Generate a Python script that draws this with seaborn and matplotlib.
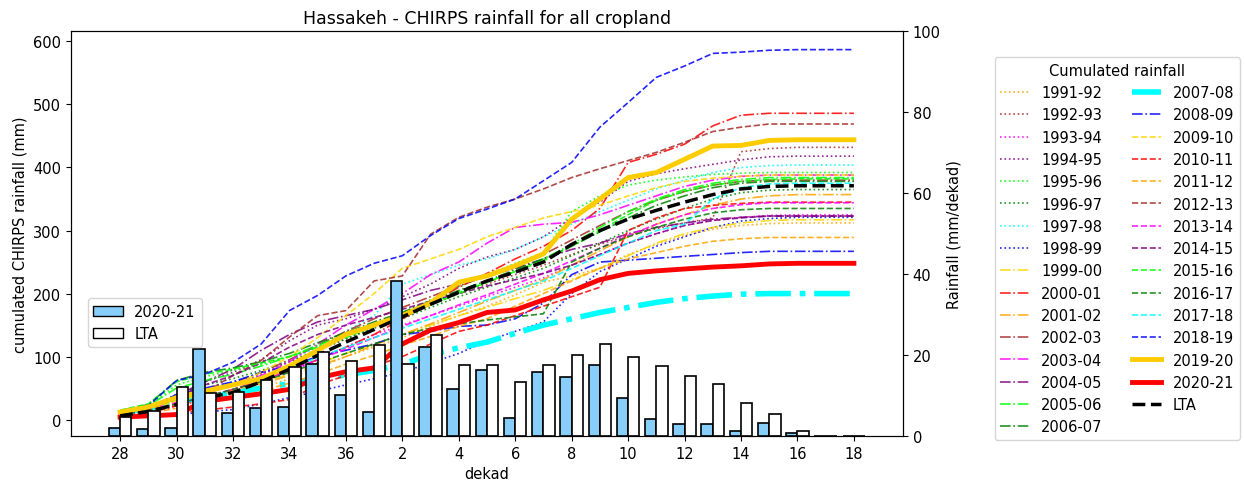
import numpy as np
import pandas as pd
import matplotlib
matplotlib.use("Agg")
import matplotlib.pyplot as plt
import seaborn as sns
from matplotlib.patches import Patch

plt.rcParams['font.size'] = 10.5

# dekads of the season (Oct dekad 28 -> Jun dekad 18)
dekads = [28, 29, 30, 31, 32, 33, 34, 35, 36, 1, 2, 3, 4, 5, 6, 7, 8, 9,
          10, 11, 12, 13, 14, 15, 16, 17, 18]

# dekadal rainfall (mm/dekad)
rain_2020_21 = [1.9, 1.7, 2.0, 21.4, 5.7, 6.8, 7.1, 17.8, 10.1, 6.0, 38.2, 22.0, 11.6, 16.4,
                4.4, 15.9, 14.5, 17.5, 9.3, 4.2, 3.0, 3.0, 1.3, 3.2, 0.8, 0.0, 0.0]
rain_lta = [4.6, 6.2, 12.2, 10.6, 10.9, 13.8, 17.1, 20.8, 18.6, 22.4, 17.8, 24.9, 17.6, 17.5,
            13.3, 17.6, 20.1, 22.6, 19.5, 17.2, 14.9, 12.9, 8.2, 5.4, 1.3, 0.1, 0.0]

# cumulated rainfall (mm) per season
c1991_92 = [8, 14, 22, 30, 38, 50, 65, 82, 100, 115, 130, 148, 165, 180, 198, 218, 228, 240, 262, 278, 292, 302, 308, 311, 312, 312, 312]
c1992_93 = [10, 18, 30, 42, 55, 72, 92, 110, 128, 148, 165, 182, 200, 215, 230, 245, 262, 278, 292, 303, 312, 320, 425, 430, 432, 432, 432]
c1993_94 = [6, 12, 22, 32, 45, 60, 75, 95, 115, 135, 150, 165, 180, 195, 210, 225, 245, 262, 280, 295, 308, 316, 321, 324, 325, 325, 325]
c1994_95 = [8, 15, 35, 60, 75, 95, 125, 150, 160, 175, 195, 215, 240, 258, 270, 290, 320, 345, 378, 390, 398, 405, 412, 417, 418, 418, 418]
c1995_96 = [12, 22, 55, 68, 78, 88, 100, 115, 135, 150, 170, 190, 210, 230, 248, 265, 330, 355, 372, 380, 385, 389, 391, 392, 392, 392, 392]
c1996_97 = [10, 18, 40, 55, 65, 78, 92, 110, 128, 145, 160, 178, 195, 210, 225, 240, 260, 280, 300, 318, 335, 350, 360, 364, 365, 365, 365]
c1997_98 = [10, 18, 30, 45, 60, 75, 95, 115, 140, 165, 215, 230, 245, 255, 270, 290, 310, 330, 348, 366, 380, 392, 400, 403, 404, 404, 404]
c1998_99 = [2, 5, 8, 12, 16, 25, 35, 45, 55, 65, 75, 90, 105, 125, 140, 155, 200, 235, 255, 275, 290, 305, 315, 319, 321, 321, 321]
c1999_00 = [8, 14, 25, 35, 45, 58, 72, 88, 105, 120, 135, 150, 165, 178, 192, 205, 222, 240, 260, 280, 295, 305, 312, 316, 317, 317, 317]
c2000_01 = [5, 10, 22, 35, 48, 62, 78, 95, 115, 135, 160, 185, 210, 232, 255, 275, 300, 335, 408, 421, 437, 466, 483, 486, 486, 486, 486]
c2001_02 = [8, 14, 24, 34, 44, 56, 70, 85, 100, 118, 135, 152, 170, 188, 205, 222, 245, 268, 290, 310, 325, 340, 350, 355, 357, 357, 357]
c2002_03 = [10, 18, 32, 45, 58, 75, 95, 118, 140, 160, 178, 195, 212, 228, 245, 262, 285, 308, 330, 348, 362, 372, 378, 380, 380, 380, 380]
c2003_04 = [8, 15, 28, 40, 55, 70, 92, 120, 150, 175, 200, 230, 250, 280, 305, 310, 313, 325, 340, 355, 370, 380, 386, 388, 388, 388, 388]
c2004_05 = [10, 18, 38, 60, 80, 110, 135, 155, 165, 175, 190, 205, 215, 228, 240, 255, 270, 280, 295, 305, 312, 318, 321, 323, 323, 323, 323]
c2005_06 = [12, 22, 50, 62, 72, 85, 100, 118, 135, 152, 168, 185, 202, 218, 235, 255, 278, 305, 330, 350, 365, 375, 381, 384, 384, 384, 384]
c2006_07 = [14, 24, 62, 75, 82, 92, 105, 122, 138, 155, 170, 188, 205, 220, 238, 255, 275, 298, 320, 340, 355, 368, 375, 378, 378, 378, 378]
c2007_08 = [10, 18, 28, 36, 42, 50, 57, 64, 71, 78, 88, 103, 114, 123, 137, 150, 160, 170, 178, 186, 192, 196, 199, 200, 200, 200, 200]
c2008_09 = [12, 18, 40, 50, 60, 75, 85, 100, 110, 120, 135, 140, 148, 150, 160, 185, 230, 250, 253, 256, 259, 262, 265, 267, 267, 267, 267]
c2009_10 = [10, 15, 30, 40, 55, 75, 100, 130, 165, 200, 240, 255, 270, 290, 305, 320, 330, 340, 355, 368, 378, 383, 386, 388, 388, 388, 388]
c2010_11 = [3, 5, 10, 15, 20, 25, 32, 55, 70, 85, 100, 120, 140, 150, 165, 180, 195, 210, 300, 320, 335, 340, 343, 345, 345, 345, 345]
c2011_12 = [6, 10, 18, 26, 35, 45, 58, 72, 88, 102, 118, 132, 148, 160, 180, 200, 220, 240, 255, 265, 275, 283, 287, 289, 289, 289, 289]
c2012_13 = [11, 17, 33, 43, 70, 94, 131, 165, 173, 220, 228, 294, 321, 337, 350, 366, 384, 398, 411, 424, 440, 457, 464, 469, 469, 469, 469]
c2013_14 = [8, 14, 25, 36, 48, 62, 78, 95, 112, 130, 148, 165, 182, 198, 215, 232, 252, 272, 292, 310, 325, 335, 341, 344, 344, 344, 344]
c2014_15 = [10, 18, 35, 55, 70, 90, 115, 135, 150, 162, 175, 188, 200, 212, 222, 232, 245, 262, 280, 295, 308, 316, 320, 323, 323, 323, 323]
c2015_16 = [15, 25, 60, 72, 80, 90, 100, 115, 130, 148, 165, 182, 200, 218, 235, 252, 275, 300, 325, 348, 362, 372, 378, 381, 382, 382, 382]
c2016_17 = [8, 14, 25, 36, 48, 60, 75, 90, 105, 120, 135, 145, 152, 158, 163, 168, 250, 272, 290, 305, 318, 328, 333, 335, 335, 335, 335]
c2017_18 = [12, 20, 32, 44, 55, 68, 82, 98, 115, 130, 145, 160, 175, 190, 205, 220, 240, 260, 280, 300, 310, 350, 368, 374, 375, 375, 375]
c2018_19 = [12, 22, 62, 72, 91, 120, 173, 197, 228, 248, 260, 292, 319, 334, 350, 379, 408, 464, 503, 543, 561, 581, 583, 586, 587, 587, 587]
c2019_20 = [12, 20, 35, 45, 55, 65, 85, 110, 135, 150, 165, 185, 218, 228, 244, 263, 318, 350, 384, 392, 413, 434, 435, 443, 444, 444, 444]
c2020_21 = [4, 6, 8, 29, 35, 41, 48, 66, 76, 82, 120, 142, 154, 170, 174, 190, 204, 222, 232, 236, 239, 242, 244, 247, 248, 248, 248]
c_lta = [6, 13, 24, 34, 43, 60, 80, 102, 123, 143, 163, 183, 202, 220, 234, 250, 278, 300, 318, 332, 345, 357, 366, 370, 371, 371, 371]

seasons = ['1991-92', '1992-93', '1993-94', '1994-95', '1995-96', '1996-97', '1997-98', '1998-99',
           '1999-00', '2000-01', '2001-02', '2002-03', '2003-04', '2004-05', '2005-06', '2006-07',
           '2007-08', '2008-09', '2009-10', '2010-11', '2011-12', '2012-13', '2013-14', '2014-15',
           '2015-16', '2016-17', '2017-18', '2018-19']
cum_series = [c1991_92, c1992_93, c1993_94, c1994_95, c1995_96, c1996_97, c1997_98, c1998_99,
              c1999_00, c2000_01, c2001_02, c2002_03, c2003_04, c2004_05, c2005_06, c2006_07,
              c2007_08, c2008_09, c2009_10, c2010_11, c2011_12, c2012_13, c2013_14, c2014_15,
              c2015_16, c2016_17, c2017_18, c2018_19]

colour_cycle = ['orange', 'brown', 'magenta', 'purple', 'lime', 'green', 'cyan', 'blue', 'gold', 'red']

pos = list(range(len(dekads)))

fig = plt.figure(figsize=(12.45, 4.89), dpi=100)
ax = fig.add_axes([0.057, 0.1063, 0.6683, 0.8282])

for i, (name, vals) in enumerate(zip(seasons, cum_series)):
    if i < 8:
        ls = ':'
    elif i < 18:
        ls = '-.'
    else:
        ls = '--'
    lw = 1.2
    alpha = 0.85
    if name == '2007-08':
        lw, alpha = 4, 1
    sns.lineplot(x=pos, y=vals, ax=ax, color=colour_cycle[i % 10], linestyle=ls,
                 linewidth=lw, alpha=alpha, label=name)

sns.lineplot(x=pos, y=c2019_20, ax=ax, color='#FFCC00', linewidth=3.5, label='2019-20')
sns.lineplot(x=pos, y=c2020_21, ax=ax, color='red', linewidth=3.5, label='2020-21')
sns.lineplot(x=pos, y=c_lta, ax=ax, color='black', linestyle='--', linewidth=2.5, label='LTA')

handles, labels = ax.get_legend_handles_labels()

ax2 = ax.twinx()
bars = pd.DataFrame({
    'pos': pos * 2,
    'rain': rain_2020_21 + rain_lta,
    'series': ['2020-21'] * len(pos) + ['LTA'] * len(pos),
})
sns.barplot(data=bars, x='pos', y='rain', hue='series', ax=ax2,
            palette={'2020-21': 'lightskyblue', 'LTA': 'white'}, saturation=1,
            edgecolor='black', linewidth=1.2, width=0.8, errorbar=None)

ax2.set_ylim(0, 100)
ax2.set_ylabel('Rainfall (mm/dekad)')
ax2.set_xlabel('')
ax2.legend(handles=[Patch(facecolor='lightskyblue', edgecolor='black', label='2020-21'),
                    Patch(facecolor='white', edgecolor='black', label='LTA')],
           loc='lower left', bbox_to_anchor=(0.02, 0.22), borderaxespad=0)

ax.set_ylim(-26, 616.5)
ax.set_xlim(-1.74, 27.74)
ax.set_xticks(pos[::2])
ax.set_xticklabels([str(d) for d in dekads[::2]])
ax.set_xlabel('dekad')
ax.set_ylabel('cumulated CHIRPS rainfall (mm)')
ax.set_title('Hassakeh - CHIRPS rainfall for all cropland', fontsize=12.5)

ax.legend(handles, labels, title='Cumulated rainfall', ncol=2, loc='upper left',
          bbox_to_anchor=(1.11, 0.936), borderaxespad=0)

fig.savefig('out.png', dpi=100)
